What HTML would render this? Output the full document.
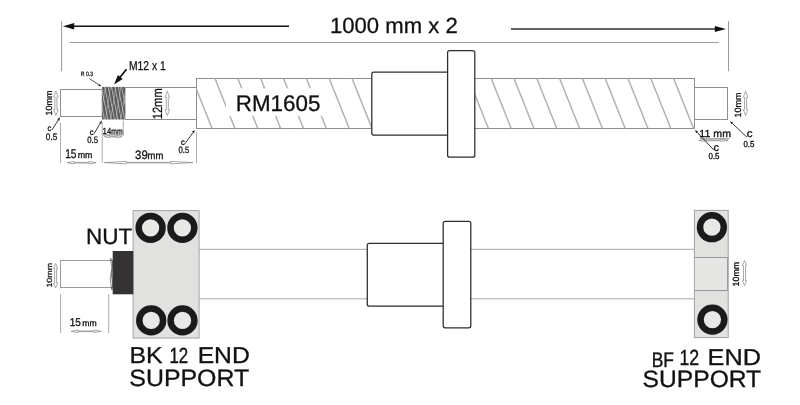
<!DOCTYPE html>
<html><head><meta charset="utf-8"><title>RM1605 ball screw</title>
<style>html,body{margin:0;padding:0;background:#fff;}body{width:800px;height:405px;overflow:hidden;}svg{display:block;will-change:transform;opacity:0.999;}text{font-family:"Liberation Sans",sans-serif;fill:#111;text-rendering:geometricPrecision;}</style></head><body>
<svg width="800" height="405" viewBox="0 0 800 405">
<defs>
<pattern id="thr" width="3.3" height="40" patternUnits="userSpaceOnUse" patternTransform="rotate(-11)"><rect width="3.3" height="40" fill="#585858"/><rect x="0" width="1" height="40" fill="#b4b4b4"/></pattern>
<pattern id="thr2" width="5.1" height="40" patternUnits="userSpaceOnUse" patternTransform="rotate(9)"><rect x="0" width="0.8" height="40" fill="#cfcfcf" fill-opacity="0.55"/></pattern>
<clipPath id="cs"><rect x="196.5" y="78.5" width="498" height="50"/></clipPath>
</defs>
<rect width="800" height="405" fill="#fff"/>
<line x1="61.6" y1="21.3" x2="61.6" y2="71.3" stroke="#8c8c8c" stroke-width="0.9"/>
<line x1="728.5" y1="21.3" x2="728.5" y2="71.3" stroke="#909090" stroke-width="0.9"/>
<line x1="69.4" y1="42.5" x2="718.8" y2="42.5" stroke="#a0a0a0" stroke-width="1"/>
<line x1="73" y1="26.2" x2="289" y2="26.2" stroke="#111" stroke-width="1.4"/>
<polygon points="63,26.2 74.2,23 74.2,29.4" fill="#111"/>
<line x1="511" y1="29" x2="716" y2="29" stroke="#333" stroke-width="1.5"/>
<polygon points="726,29 714.8,25.9 714.8,32.1" fill="#111"/>
<rect x="60.5" y="89.5" width="41.7" height="27.0" fill="#fff" stroke="#8e8e8e" stroke-width="1" />
<rect x="125" y="87.5" width="71.5" height="32.0" fill="#fff" stroke="#8e8e8e" stroke-width="1" />
<rect x="102.1" y="86.9" width="22.9" height="32.6" fill="url(#thr)"/>
<rect x="102.1" y="86.9" width="22.9" height="32.6" fill="url(#thr2)"/>
<rect x="196.5" y="78.5" width="498.0" height="50.0" fill="#fff" stroke="#8e8e8e" stroke-width="1" />
<g clip-path="url(#cs)" stroke="#b2b2b2" stroke-width="1.5">
<line x1="191.7" y1="77.4" x2="212.3" y2="129"/>
<line x1="214.55" y1="77.4" x2="235.15" y2="129"/>
<line x1="237.4" y1="77.4" x2="258.0" y2="129"/>
<line x1="260.25" y1="77.4" x2="280.85" y2="129"/>
<line x1="283.1" y1="77.4" x2="303.7" y2="129"/>
<line x1="305.95" y1="77.4" x2="326.55" y2="129"/>
<line x1="328.8" y1="77.4" x2="349.4" y2="129"/>
<line x1="351.65" y1="77.4" x2="372.25" y2="129"/>
<line x1="468.0" y1="77.4" x2="488.6" y2="129"/>
<line x1="490.8" y1="77.4" x2="511.4" y2="129"/>
<line x1="513.6" y1="77.4" x2="534.2" y2="129"/>
<line x1="536.4" y1="77.4" x2="557.0" y2="129"/>
<line x1="559.2" y1="77.4" x2="579.8" y2="129"/>
<line x1="582.0" y1="77.4" x2="602.6" y2="129"/>
<line x1="604.8" y1="77.4" x2="625.4" y2="129"/>
<line x1="627.6" y1="77.4" x2="648.2" y2="129"/>
<line x1="650.4" y1="77.4" x2="671.0" y2="129"/>
<line x1="673.2" y1="77.4" x2="693.8" y2="129"/>
</g>
<rect x="226.1" y="88.4" width="103" height="27.4" fill="#fff"/>
<rect x="371.8" y="72.1" width="78.8" height="62.9" rx="2" ry="2" fill="#fff" stroke="#2c2c2c" stroke-width="1.25"/>
<rect x="447.6" y="50.6" width="27.2" height="106.6" rx="2" ry="2" fill="#fff" stroke="#2c2c2c" stroke-width="1.25"/>
<rect x="694.5" y="87.5" width="33.0" height="32.0" fill="#fff" stroke="#8e8e8e" stroke-width="1" />
<line x1="89.4" y1="78.5" x2="98.91" y2="84.92" stroke="#222" stroke-width="0.8"/>
<polygon points="101.4,86.6 98.3,85.83 99.53,84.01" fill="#222"/>
<line x1="126.5" y1="69.3" x2="119.6" y2="77.8" stroke="#111" stroke-width="1.8"/>
<polygon points="114.1,84.6 117.85,75.04 122.67,78.94" fill="#111"/>
<path d="M55.9 91 L58.1 97 L56.9 97 L56.9 109.6 L58.1 109.6 L55.9 115.6 L53.7 109.6 L54.9 109.6 L54.9 97 L53.7 97 Z" fill="#fff" stroke="#858585" stroke-width="0.7"/>
<line x1="51.9" y1="130" x2="58.28" y2="120.0" stroke="#222" stroke-width="0.9"/>
<polygon points="60,117.3 59.38,120.7 57.18,119.3" fill="#222"/>
<line x1="94" y1="133.7" x2="100.25" y2="123.34" stroke="#222" stroke-width="0.9"/>
<polygon points="101.9,120.6 101.36,124.01 99.13,122.67" fill="#222"/>
<line x1="103" y1="134.9" x2="122.6" y2="134.9" stroke="#555" stroke-width="0.7"/>
<path d="M104.4 136.6 L109.4 135.5 L109.4 136.25 L117 136.25 L117 135.5 L122 136.6 L117 137.7 L117 136.95 L109.4 136.95 L109.4 137.7 Z" fill="#fff" stroke="#7c7c7c" stroke-width="0.65"/>
<line x1="60.5" y1="123" x2="60.5" y2="163" stroke="#a2a2a2" stroke-width="0.9"/>
<line x1="102.2" y1="122.5" x2="102.2" y2="163" stroke="#a2a2a2" stroke-width="0.9"/>
<line x1="123.3" y1="120.6" x2="123.3" y2="136" stroke="#a2a2a2" stroke-width="0.9"/>
<line x1="196.5" y1="132" x2="196.5" y2="163" stroke="#a2a2a2" stroke-width="0.9"/>
<path d="M67 162.7 L74 161.45 L74 162.35 L89 162.35 L89 161.45 L96 162.7 L89 163.95 L89 163.05 L74 163.05 L74 163.95 Z" fill="#fff" stroke="#7c7c7c" stroke-width="0.65"/>
<path d="M104.4 162.6 L126.4 161.35 L126.4 162.25 L171 162.25 L171 161.35 L193 162.6 L171 163.85 L171 162.95 L126.4 162.95 L126.4 163.85 Z" fill="#fff" stroke="#7c7c7c" stroke-width="0.65"/>
<path d="M167.3 91.2 L169.5 97.2 L168.3 97.2 L168.3 109.6 L169.5 109.6 L167.3 115.6 L165.1 109.6 L166.3 109.6 L166.3 97.2 L165.1 97.2 Z" fill="#fff" stroke="#858585" stroke-width="0.7"/>
<line x1="185" y1="143.7" x2="192.94" y2="132.6" stroke="#222" stroke-width="0.9"/>
<polygon points="194.8,130 194.0,133.36 191.88,131.85" fill="#222"/>
<path d="M745.6 91.2 L747.8 97.2 L746.6 97.2 L746.6 109.6 L747.8 109.6 L745.6 115.6 L743.4 109.6 L744.6 109.6 L744.6 97.2 L743.4 97.2 Z" fill="#fff" stroke="#858585" stroke-width="0.7"/>
<line x1="700" y1="138.8" x2="729.5" y2="138.8" stroke="#555" stroke-width="0.7"/>
<path d="M698.8 140.4 L705.8 139.3 L705.8 140.05 L721 140.05 L721 139.3 L728 140.4 L721 141.5 L721 140.75 L705.8 140.75 L705.8 141.5 Z" fill="#fff" stroke="#7c7c7c" stroke-width="0.65"/>
<line x1="747" y1="137.2" x2="732.33" y2="123.39" stroke="#222" stroke-width="0.9"/>
<polygon points="730,121.2 733.22,122.45 731.44,124.34" fill="#222"/>
<line x1="713.8" y1="150" x2="697.19" y2="132.33" stroke="#222" stroke-width="0.9"/>
<polygon points="695,130 698.14,131.44 696.24,133.22" fill="#222"/>
<line x1="199.1" y1="249.3" x2="694.4" y2="249.3" stroke="#a8a8a8" stroke-width="1"/>
<line x1="199.1" y1="298.8" x2="694.4" y2="298.8" stroke="#a8a8a8" stroke-width="1"/>
<rect x="133.1" y="210.6" width="66.0" height="127.5" fill="#e1e1e0" stroke="#a6a6a6" stroke-width="1" />
<circle cx="150.6" cy="227.8" r="11.9" fill="#e8e8e7" stroke="#1c1a1a" stroke-width="6.5"/>
<circle cx="182.4" cy="227.8" r="11.9" fill="#e8e8e7" stroke="#1c1a1a" stroke-width="6.5"/>
<circle cx="151.2" cy="320.4" r="11.9" fill="#e8e8e7" stroke="#1c1a1a" stroke-width="6.5"/>
<circle cx="182.5" cy="320.4" r="11.9" fill="#e8e8e7" stroke="#1c1a1a" stroke-width="6.5"/>
<rect x="60.5" y="260.5" width="52.0" height="27.0" fill="#fff" stroke="#9a9a9a" stroke-width="1" />
<path d="M110.4 258 L112 268 L110.2 279 L111.8 290 M111.6 258.5 L112.6 264 L111.3 274 L112.6 284 L112 290" fill="none" stroke="#555" stroke-width="0.7"/>
<rect x="112.7" y="251" width="20.6" height="43.3" fill="#343232"/>
<path d="M55.6 263.6 L57.7 268.6 L56.6 268.6 L56.6 283 L57.7 283 L55.6 288 L53.5 283 L54.6 283 L54.6 268.6 L53.5 268.6 Z" fill="#fff" stroke="#858585" stroke-width="0.7"/>
<line x1="60.6" y1="294.2" x2="60.6" y2="333" stroke="#a2a2a2" stroke-width="0.9"/>
<line x1="108.7" y1="294.2" x2="108.7" y2="333" stroke="#a2a2a2" stroke-width="0.9"/>
<path d="M71 331.3 L78 330.05 L78 330.95 L94.3 330.95 L94.3 330.05 L101.3 331.3 L94.3 332.55 L94.3 331.65 L78 331.65 L78 332.55 Z" fill="#fff" stroke="#7c7c7c" stroke-width="0.65"/>
<rect x="367.3" y="243.3" width="78.9" height="62.9" rx="2" ry="2" fill="#fff" stroke="#2c2c2c" stroke-width="1.25"/>
<rect x="443.2" y="221.4" width="27.6" height="106.4" rx="2" ry="2" fill="#fff" stroke="#2c2c2c" stroke-width="1.25"/>
<rect x="694.4" y="210.4" width="33.8" height="127.2" fill="#e1e1e0" stroke="#a0a0a0" stroke-width="1" />
<rect x="694.9" y="257.5" width="32.8" height="33" fill="#e6e6e5"/>
<path d="M694.9 257.5 H727.6 V290.5 H694.9" fill="none" stroke="#8c8c8c" stroke-width="0.9"/>
<circle cx="711.9" cy="227.2" r="11.9" fill="#e8e8e7" stroke="#1c1a1a" stroke-width="6.5"/>
<circle cx="712.4" cy="319.6" r="11.9" fill="#e8e8e7" stroke="#1c1a1a" stroke-width="6.5"/>
<path d="M744.5 260.6 L746.6 265.6 L745.5 265.6 L745.5 280.7 L746.6 280.7 L744.5 285.7 L742.4 280.7 L743.5 280.7 L743.5 265.6 L742.4 265.6 Z" fill="#fff" stroke="#858585" stroke-width="0.7"/>
<text x="329.97999999999996" y="33.3" font-size="21.9" textLength="127.73000000000002" lengthAdjust="spacingAndGlyphs" stroke="#111" stroke-width="0.3">1000 mm x 2</text>
<text x="235.82" y="110.6" font-size="22.6" textLength="84.56" lengthAdjust="spacingAndGlyphs" stroke="#111" stroke-width="0.3">RM1605</text>
<text x="80.82" y="76.3" font-size="6.2" textLength="12.38" lengthAdjust="spacingAndGlyphs" stroke="#111" stroke-width="0.25">R 0.3</text>
<text x="128.94" y="69.5" font-size="12.9" textLength="36.87" lengthAdjust="spacingAndGlyphs" stroke="#111" stroke-width="0.25">M12 x 1</text>
<text x="47.49" y="130.9" font-size="8.4" textLength="3.76" lengthAdjust="spacingAndGlyphs" stroke="#111" stroke-width="0.3">c</text>
<text x="45.84" y="140.3" font-size="9.4" textLength="11.39" lengthAdjust="spacingAndGlyphs" stroke="#111" stroke-width="0.3">0.5</text>
<text x="89.84" y="134.7" font-size="8.4" textLength="3.87" lengthAdjust="spacingAndGlyphs" stroke="#111" stroke-width="0.3">c</text>
<text x="87.21" y="142.7" font-size="9.2" textLength="10.84" lengthAdjust="spacingAndGlyphs" stroke="#111" stroke-width="0.3">0.5</text>
<text x="102.62" y="134.1" font-size="8.9" textLength="8.65" lengthAdjust="spacingAndGlyphs" stroke="#111" stroke-width="0.3">14</text>
<text x="111.32" y="134.1" font-size="8.2" textLength="11.42" lengthAdjust="spacingAndGlyphs" stroke="#111" stroke-width="0.3">mm</text>
<text x="65.16" y="157.7" font-size="12.8" textLength="11.32" lengthAdjust="spacingAndGlyphs" stroke="#111" stroke-width="0.3">15</text>
<text x="77.66" y="157.7" font-size="9.0" textLength="14.63" lengthAdjust="spacingAndGlyphs" stroke="#111" stroke-width="0.3">mm</text>
<text x="135.09" y="159.4" font-size="12.2" textLength="12.64" lengthAdjust="spacingAndGlyphs" stroke="#111" stroke-width="0.3">39</text>
<text x="147.58" y="159.4" font-size="10.3" textLength="15.73" lengthAdjust="spacingAndGlyphs" stroke="#111" stroke-width="0.3">mm</text>
<text x="181.07" y="144.5" font-size="8.4" textLength="3.86" lengthAdjust="spacingAndGlyphs" stroke="#111" stroke-width="0.3">c</text>
<text x="178.5" y="152.7" font-size="9.2" textLength="10.74" lengthAdjust="spacingAndGlyphs" stroke="#111" stroke-width="0.3">0.5</text>
<text x="699.37" y="137.2" font-size="10.2" textLength="31.62" lengthAdjust="spacingAndGlyphs" stroke="#111" stroke-width="0.3">11 mm</text>
<text x="746.87" y="137.2" font-size="10.9" textLength="5.82" lengthAdjust="spacingAndGlyphs" stroke="#111" stroke-width="0.3">c</text>
<text x="743.43" y="146.6" font-size="8.7" textLength="11.09" lengthAdjust="spacingAndGlyphs" stroke="#111" stroke-width="0.3">0.5</text>
<text x="713.6" y="150.7" font-size="10.9" textLength="5.5" lengthAdjust="spacingAndGlyphs" stroke="#111" stroke-width="0.3">c</text>
<text x="708.43" y="159.4" font-size="8.7" textLength="11.09" lengthAdjust="spacingAndGlyphs" stroke="#111" stroke-width="0.3">0.5</text>
<text x="86.02" y="244.1" font-size="22.3" textLength="46.3" lengthAdjust="spacingAndGlyphs" stroke="#111" stroke-width="0.3">NUT</text>
<text x="69.67" y="326.3" font-size="11.4" textLength="11.1" lengthAdjust="spacingAndGlyphs" stroke="#111" stroke-width="0.3">15</text>
<text x="82.24" y="326.3" font-size="8.6" textLength="14.4" lengthAdjust="spacingAndGlyphs" stroke="#111" stroke-width="0.3">mm</text>
<text x="129.48" y="363.0" font-size="22.9" textLength="33.22" lengthAdjust="spacingAndGlyphs" stroke="#111" stroke-width="0.3">BK</text>
<text x="169.49" y="363.0" font-size="22.0" textLength="18.75" lengthAdjust="spacingAndGlyphs" stroke="#111" stroke-width="0.4">12</text>
<text x="197.65" y="363.0" font-size="22.9" textLength="52.12" lengthAdjust="spacingAndGlyphs" stroke="#111" stroke-width="0.3">END</text>
<text x="129.37" y="386.0" font-size="23.6" textLength="119.81" lengthAdjust="spacingAndGlyphs" stroke="#111" stroke-width="0.3">SUPPORT</text>
<text x="651.74" y="366.7" font-size="21.2" textLength="22.240000000000002" lengthAdjust="spacingAndGlyphs" stroke="#111" stroke-width="0.4">BF</text>
<text x="679.48" y="365.0" font-size="21.9" textLength="19.72" lengthAdjust="spacingAndGlyphs" stroke="#111" stroke-width="0.4">12</text>
<text x="707.63" y="365.1" font-size="22.9" textLength="53.37" lengthAdjust="spacingAndGlyphs" stroke="#111" stroke-width="0.3">END</text>
<text x="642.62" y="387.2" font-size="23.6" textLength="118.54" lengthAdjust="spacingAndGlyphs" stroke="#111" stroke-width="0.3">SUPPORT</text>
<text transform="translate(52.0 115.42) rotate(-90)" font-size="9.0" textLength="24.92" lengthAdjust="spacingAndGlyphs" stroke="#111" stroke-width="0.25">10mm</text>
<text transform="translate(162.2 119.29) rotate(-90)" font-size="13.3" textLength="30.97" lengthAdjust="spacingAndGlyphs" stroke="#111" stroke-width="0.25">12mm</text>
<text transform="translate(740.7 117.56) rotate(-90)" font-size="9.1" textLength="25.17" lengthAdjust="spacingAndGlyphs" stroke="#111" stroke-width="0.25">10mm</text>
<text transform="translate(52.0 287.60999999999996) rotate(-90)" font-size="7.6" textLength="24.64" lengthAdjust="spacingAndGlyphs" stroke="#111" stroke-width="0.2">10mm</text>
<text transform="translate(739.1 286.4) rotate(-90)" font-size="8.9" textLength="24.46" lengthAdjust="spacingAndGlyphs" stroke="#111" stroke-width="0.3">10mm</text>
</svg></body></html>
